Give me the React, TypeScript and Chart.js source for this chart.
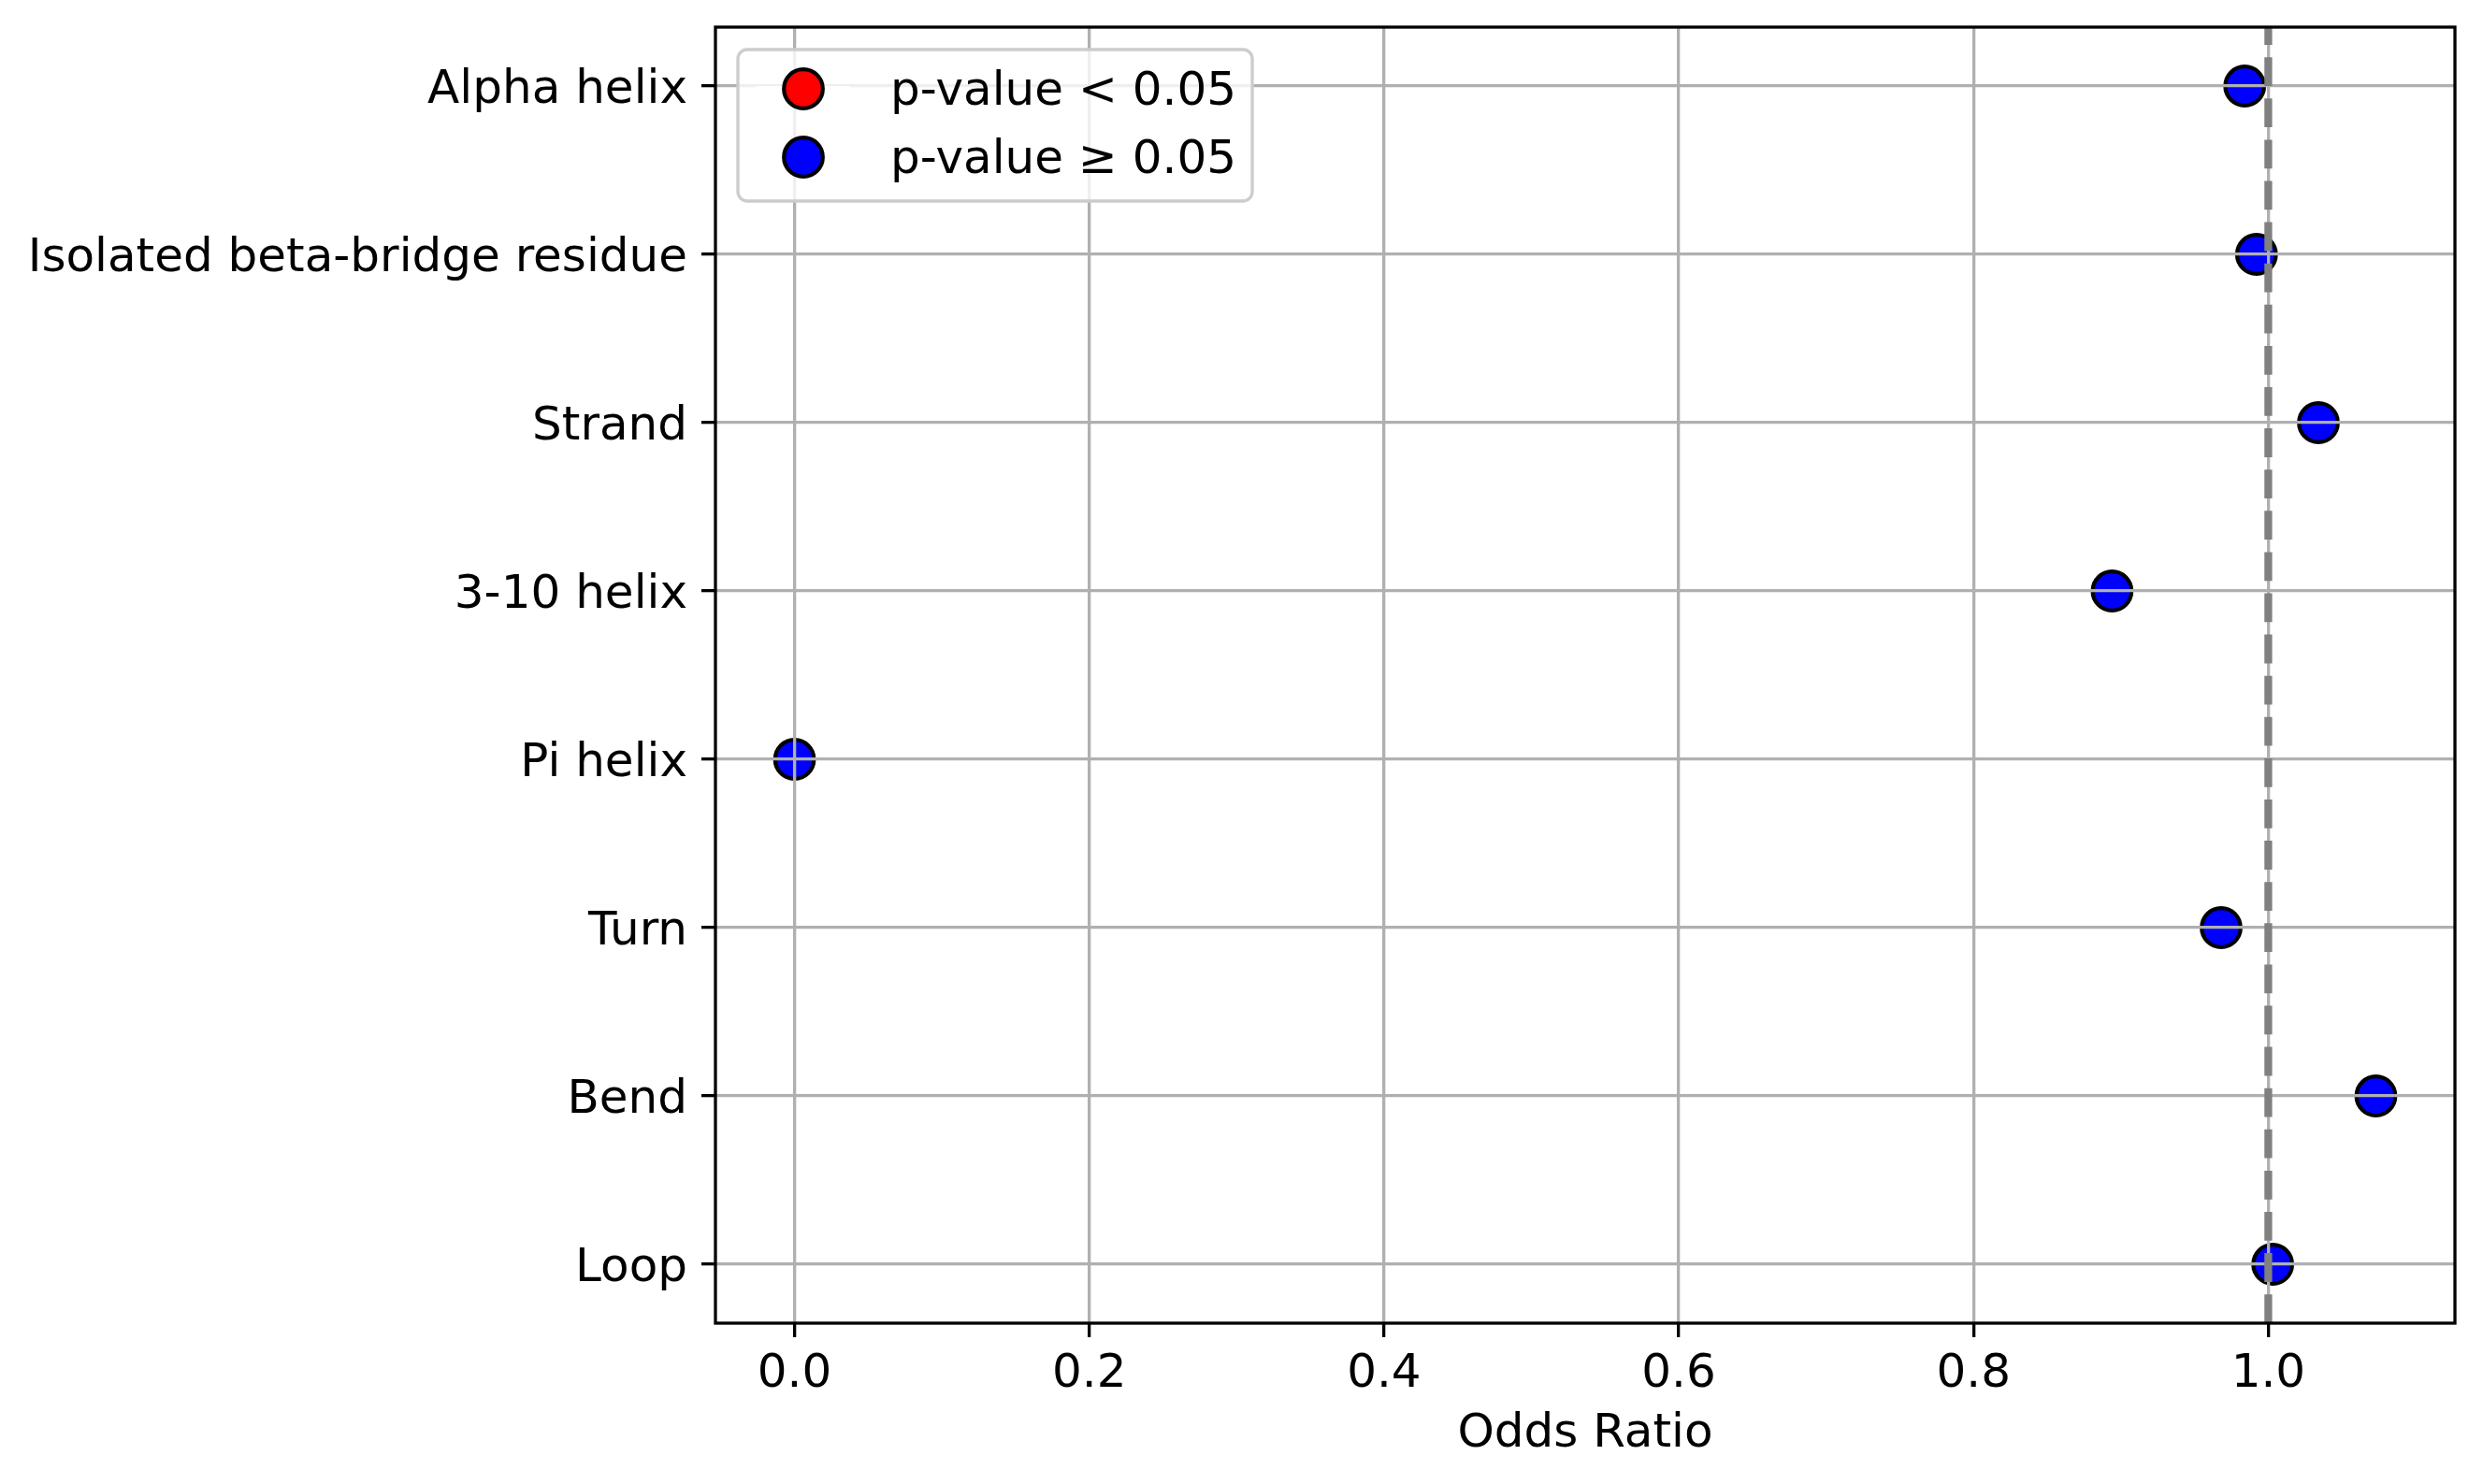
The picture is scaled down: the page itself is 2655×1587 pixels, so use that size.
import { useEffect, useRef } from 'react';
import { Chart, registerables } from 'chart.js';
Chart.register(...registerables);

const CATEGORIES = [
  'Alpha helix',
  'Isolated beta-bridge residue',
  'Strand',
  '3-10 helix',
  'Pi helix',
  'Turn',
  'Bend',
  'Loop'
];
const ODDS_RATIOS = [0.984, 0.992, 1.034, 0.894, 0.0, 0.968, 1.073, 1.003];
const SIGNIFICANT = [false, false, false, false, false, false, false, false];
const X_TICKS = [0, 0.2, 0.4, 0.6, 0.8, 1.0];
const REFERENCE_LINE = 1.0;
const LEGEND_LABELS = ['p-value < 0.05', 'p-value \u2265 0.05'];
const LEGEND_COLORS = ['#ff0000', '#0000ff'];

const FONT = 'DejaVu Sans';
const W = 2655;
const H = 1587;

// reference line, spines and the in-axes legend
const overlayPlugin = {
  id: 'overlay',
  afterDraw(chart: any) {
    const { ctx, chartArea: a, scales } = chart;
    const x = scales.x.getPixelForValue(REFERENCE_LINE);
    ctx.save();

    ctx.strokeStyle = '#808080';
    ctx.lineWidth = 8.3;
    ctx.setLineDash([30.8, 13.3]);
    ctx.beginPath();
    ctx.moveTo(x, a.bottom);
    ctx.lineTo(x, a.top);
    ctx.stroke();
    ctx.setLineDash([]);

    ctx.strokeStyle = '#000';
    ctx.lineWidth = 3.3;
    ctx.strokeRect(a.left, a.top, a.right - a.left, a.bottom - a.top);

    ctx.font = `50px "${FONT}"`;
    const datasets = chart.data.datasets;
    const textW = Math.max(...datasets.map((d: any) => ctx.measureText(d.label).width));
    const left = a.left + 24;
    const top = a.top + 24;
    const w = 20 + 100 + 40 + textW + 20;
    const h = 162;
    ctx.beginPath();
    ctx.roundRect(left, top, w, h, 10);
    ctx.fillStyle = 'rgba(255,255,255,0.8)';
    ctx.fill();
    ctx.strokeStyle = '#cccccc';
    ctx.lineWidth = 3.3;
    ctx.stroke();

    datasets.forEach((d: any, i: number) => {
      const cy = top + 42 + i * 73;
      ctx.strokeStyle = '#ffffff';
      ctx.lineWidth = 6.25;
      ctx.beginPath();
      ctx.moveTo(left + 20, cy);
      ctx.lineTo(left + 120, cy);
      ctx.stroke();

      ctx.beginPath();
      ctx.arc(left + 70, cy, 20.8, 0, Math.PI * 2);
      ctx.fillStyle = d.backgroundColor;
      ctx.fill();
      ctx.strokeStyle = '#000';
      ctx.lineWidth = 4.2;
      ctx.stroke();

      ctx.fillStyle = '#000';
      ctx.textBaseline = 'alphabetic';
      ctx.textAlign = 'left';
      ctx.fillText(d.label, left + 163, cy + 17);
    });
    ctx.restore();
  }
};

function OddsChart() {
  const canvasRef = useRef<HTMLCanvasElement>(null);
  const chartRef = useRef<Chart | null>(null);

  useEffect(() => {
    if (!canvasRef.current) return;
    if (chartRef.current) chartRef.current.destroy();

    const lo = Math.min(...ODDS_RATIOS);
    const hi = Math.max(...ODDS_RATIOS);
    const pad = 0.05 * (hi - lo);

    const makeData = (sig: boolean) =>
      ODDS_RATIOS.map((v, i) => ({ x: v, y: i, sig: SIGNIFICANT[i] }))
        .filter(p => p.sig === sig)
        .map(p => ({ x: p.x, y: p.y }));

    const tickFont = { family: FONT, size: 50 };
    const grid = {
      color: '#b0b0b0',
      lineWidth: 3.3,
      tickColor: '#000',
      tickLength: 15,
      tickWidth: 3.3,
      z: 1
    };

    chartRef.current = new Chart(canvasRef.current, {
      type: 'scatter',
      data: {
        datasets: [
          {
            label: LEGEND_LABELS[0],
            data: makeData(true),
            backgroundColor: LEGEND_COLORS[0],
            borderColor: '#000',
            pointRadius: 20.8,
            pointBorderWidth: 4.2
          },
          {
            label: LEGEND_LABELS[1],
            data: makeData(false),
            backgroundColor: LEGEND_COLORS[1],
            borderColor: '#000',
            pointRadius: 20.8,
            pointBorderWidth: 4.2
          }
        ]
      },
      options: {
        responsive: false,
        devicePixelRatio: 1,
        animation: false,
        events: [],
        layout: { padding: { left: 0, top: 29, right: 30, bottom: 0 } },
        plugins: {
          legend: { display: false },
          tooltip: { enabled: false }
        },
        scales: {
          x: {
            type: 'linear',
            min: lo - pad,
            max: hi + pad,
            afterBuildTicks: (s: any) => {
              s.ticks = X_TICKS.map(v => ({ value: v }));
            },
            afterFit: (s: any) => {
              s.height = 172;
              s.paddingLeft = 0;
              s.paddingRight = 0;
            },
            ticks: {
              callback: (v: any) => Number(v).toFixed(1),
              font: tickFont,
              color: '#000',
              padding: 10,
              maxRotation: 0,
              autoSkip: false
            },
            grid,
            border: { display: false },
            title: {
              display: true,
              text: 'Odds Ratio',
              font: tickFont,
              color: '#000',
              padding: { top: 0, bottom: 23 }
            }
          },
          y: {
            type: 'linear',
            reverse: true,
            min: -0.35,
            max: CATEGORIES.length - 1 + 0.35,
            afterBuildTicks: (s: any) => {
              s.ticks = CATEGORIES.map((_, i) => ({ value: i }));
            },
            afterFit: (s: any) => {
              s.width = 765;
              s.paddingTop = 0;
              s.paddingBottom = 0;
            },
            ticks: {
              callback: (v: any) => CATEGORIES[Math.round(Number(v))],
              font: tickFont,
              color: '#000',
              padding: 15,
              labelOffset: 5,
              autoSkip: false
            },
            grid,
            border: { display: false }
          }
        }
      },
      plugins: [overlayPlugin]
    } as any);

    return () => {
      if (chartRef.current) {
        chartRef.current.destroy();
        chartRef.current = null;
      }
    };
  }, []);

  return (
    <div style={{ position: 'absolute', left: 0, top: 0, width: W, height: H, background: '#fff' }}>
      <canvas ref={canvasRef} width={W} height={H} style={{ display: 'block' }} />
    </div>
  );
}

export default function App() {
  return <OddsChart />;
}
